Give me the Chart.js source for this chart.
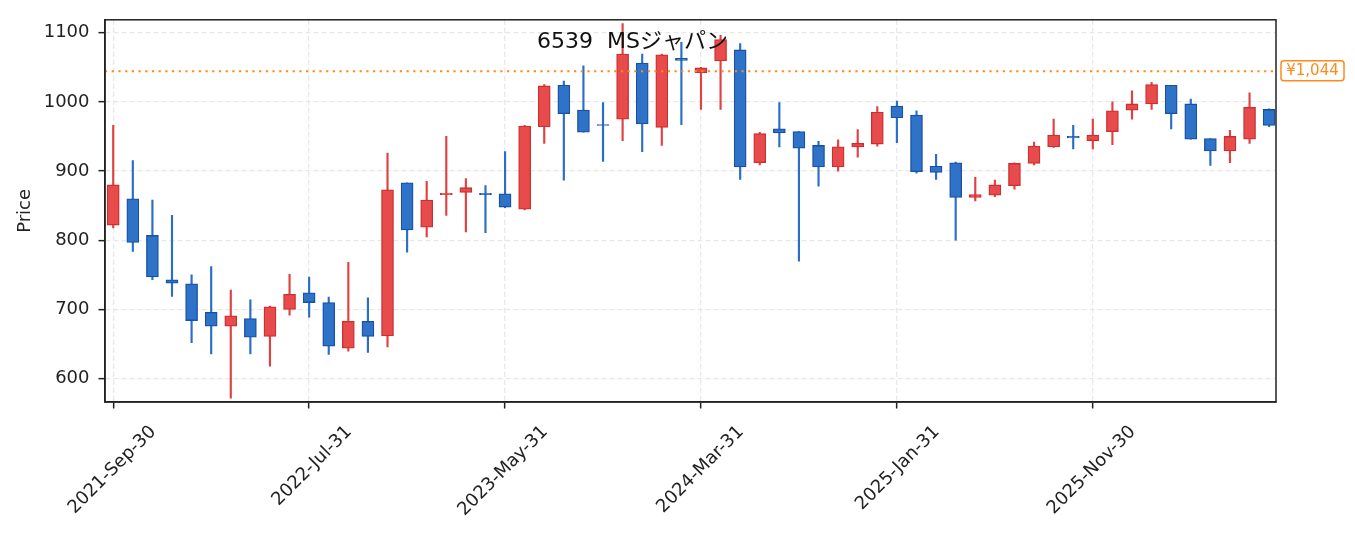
<!DOCTYPE html>
<html><head><meta charset="utf-8">
<script src="https://cdn.jsdelivr.net/npm/chart.js@4.4.1/dist/chart.umd.min.js"></script>
<style>html,body{margin:0;padding:0;background:#fff}#wrap{width:1355px;height:533px;position:relative}</style>
</head><body><div id="wrap"><canvas id="c" width="1355" height="533"></canvas></div>
<script>
const titleText = '6539  MSジャパン';
const tickIndex = [0, 10, 20, 30, 40, 50];
const tickLabels = ['2021-Sep-30', '2022-Jul-31', '2023-May-31', '2024-Mar-31', '2025-Jan-31', '2025-Nov-30'];
const yTicks = [600, 700, 800, 900, 1000, 1100];
const lastPrice = 1044;
const lastPriceLabel = '¥1,044';

const opens  = [822,860,807,743,737,696,676,687,661,700, 724,710,644,683,662,883,819,866,869,868,
                867,845,964,1024,988,967,975,1056,963,1063, 1042,1059,1075,912,961,957,937,906,935,939,
                994,981,907,912,862,865,879,911,935,950, 944,957,988,997,1024,997,947,929,946,989];
const highs  = [966,915,858,836,750,762,728,714,705,751, 747,718,768,717,926,883,885,950,889,879,
                928,966,1025,1030,1052,999,1113,1069,1069,1086, 1050,1096,1084,956,999,957,943,945,960,993,
                1001,987,924,913,891,887,912,942,975,966, 975,1000,1016,1028,1024,1004,947,959,1013,990];
const lows   = [818,784,743,719,652,636,572,636,618,692, 689,635,640,638,646,783,805,836,812,811,
                847,844,940,887,956,914,944,928,937,967, 989,989,888,909,935,770,878,900,920,936,
                941,897,888,800,857,863,874,909,934,932, 932,938,975,989,961,946,908,912,940,964];
const closes = [880,797,747,738,684,676,691,660,704,722, 710,647,683,661,873,815,858,868,876,866,
                848,965,1023,983,956,966,1069,968,1068,1060, 1049,1090,906,954,955,933,906,935,940,985,
                977,899,898,862,866,880,911,936,952,948, 952,987,997,1025,983,946,929,950,992,966];

const UP_FILL = '#e84b4b', UP_EDGE = '#cc2f2f', UP_WICK = '#e04242';
const DN_FILL = '#2e73c8', DN_EDGE = '#1a50a3', DN_WICK = '#2a6fc6';

const bodies = opens.map((o, i) => ({x: i, y: [o, closes[i]]}));
const wicks = lows.map((l, i) => ({x: i, y: [l, highs[i]]}));
const isUp = i => closes[i] >= opens[i];

const FONT = "'DejaVu Sans', 'Noto Sans CJK JP', sans-serif";
Chart.defaults.font.family = FONT;
Chart.defaults.color = '#222';

const overlay = {
  id: 'overlay',
  afterDatasetsDraw(chart) {
    const {ctx, chartArea: a, scales: {y}} = chart;
    const py = y.getPixelForValue(lastPrice);
    ctx.save();
    ctx.strokeStyle = '#ff8a1c';
    ctx.lineWidth = 2;
    ctx.setLineDash([2.2, 4.5]);
    ctx.beginPath(); ctx.moveTo(a.left, py); ctx.lineTo(a.right, py); ctx.stroke();
    ctx.restore();
  },
  afterDraw(chart) {
    const {ctx, chartArea: a, scales: {y}} = chart;
    ctx.save();
    ctx.strokeStyle = '#222'; ctx.lineWidth = 1.5;
    ctx.strokeRect(a.left, a.top, a.right - a.left, a.bottom - a.top);
    ctx.fillStyle = '#111';
    ctx.font = '22px ' + FONT;
    ctx.textAlign = 'left'; ctx.textBaseline = 'alphabetic';
    ctx.fillText(titleText, 537, 47.5);
    const py = y.getPixelForValue(lastPrice);
    const bx = a.right + 5, bw = 63, bh = 20, by = py - bh / 2 - 0.5, r = 3;
    ctx.beginPath();
    ctx.moveTo(bx + r, by); ctx.lineTo(bx + bw - r, by); ctx.quadraticCurveTo(bx + bw, by, bx + bw, by + r);
    ctx.lineTo(bx + bw, by + bh - r); ctx.quadraticCurveTo(bx + bw, by + bh, bx + bw - r, by + bh);
    ctx.lineTo(bx + r, by + bh); ctx.quadraticCurveTo(bx, by + bh, bx, by + bh - r);
    ctx.lineTo(bx, by + r); ctx.quadraticCurveTo(bx, by, bx + r, by);
    ctx.closePath();
    ctx.fillStyle = '#fff'; ctx.fill();
    ctx.strokeStyle = '#ff8a1c'; ctx.lineWidth = 1.5; ctx.stroke();
    ctx.fillStyle = '#ff8a1c';
    ctx.font = '15px ' + FONT;
    ctx.textAlign = 'center'; ctx.textBaseline = 'middle';
    ctx.fillText(lastPriceLabel, bx + bw / 2, by + bh / 2 + 0.5);
    ctx.restore();
  }
};

new Chart(document.getElementById('c'), {
  type: 'bar',
  data: {
    datasets: [
      {
        label: 'body', data: bodies, grouped: false, barThickness: 12,
        backgroundColor: ctx => isUp(ctx.dataIndex) ? UP_FILL : DN_FILL,
        borderColor: ctx => isUp(ctx.dataIndex) ? UP_EDGE : DN_EDGE,
        borderWidth: 1.3, borderSkipped: false
      },
      {
        label: 'wick', data: wicks, grouped: false, barThickness: 1.5,
        backgroundColor: ctx => isUp(ctx.dataIndex) ? UP_WICK : DN_WICK,
        borderWidth: 0
      }
    ]
  },
  options: {
    responsive: false, animation: false, devicePixelRatio: 1,
    layout: {padding: {top: 15, right: 79, left: 0, bottom: 0}},
    plugins: {legend: {display: false}, tooltip: {enabled: false}, title: {display: false}},
    scales: {
      x: {
        type: 'linear', min: -0.42, max: 59.35, offset: false,
        afterFit: s => { s.height = 131; },
        afterBuildTicks: s => { s.ticks = tickIndex.map(v => ({value: v})); },
        ticks: {
          autoSkip: false, minRotation: 45, maxRotation: 45, labelOffset: 40, padding: 13,
          font: {size: 18}, color: '#222',
          callback: v => { const k = tickIndex.indexOf(v); return k >= 0 ? tickLabels[k] : ''; }
        },
        grid: {offset: false, color: '#e8e8e8', lineWidth: 1.3, tickColor: '#222', tickWidth: 1.5, tickLength: 6.5, tickBorderDash: []},
        border: {display: true, color: '#222', width: 1.5, dash: [5, 3]}
      },
      y: {
        type: 'linear', min: 566.4, max: 1118.5,
        afterFit: s => { s.width = 105; },
        afterBuildTicks: s => { s.ticks = yTicks.map(v => ({value: v})); },
        ticks: {font: {size: 18}, color: '#222', padding: 9, callback: v => String(v)},
        grid: {color: '#e8e8e8', lineWidth: 1.3, tickColor: '#222', tickWidth: 1.5, tickLength: 6.5, tickBorderDash: []},
        border: {display: true, color: '#222', width: 1.5, dash: [5, 3]},
        title: {display: true, text: 'Price', font: {size: 18}, color: '#222', padding: {top: 15, bottom: 0}}
      }
    }
  },
  plugins: [overlay]
});
</script>
</body></html>
